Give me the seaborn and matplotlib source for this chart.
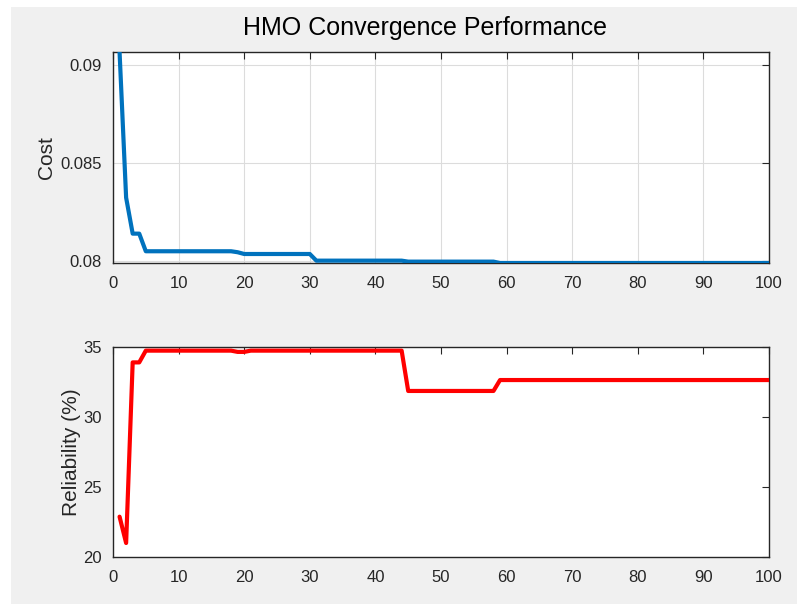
import matplotlib
matplotlib.use("Agg")
import matplotlib.pyplot as plt
import seaborn as sns
import pandas as pd
from matplotlib.patches import Rectangle

# Data (change points of the convergence curves)
cost_iter = [1, 2, 3, 4, 5, 18, 19, 20, 30, 31, 44, 45, 58, 59, 100]
cost_vals = [0.09066, 0.08322, 0.08138, 0.08138, 0.08048, 0.08048, 0.08043,
             0.08034, 0.08034, 0.08000, 0.08000, 0.07995, 0.07995, 0.07988, 0.07988]

rel_iter = [1, 2, 3, 4, 5, 18, 19, 20, 21, 44, 45, 58, 59, 100]
rel_vals = [22.88, 21.0, 33.9, 33.9, 34.74, 34.74, 34.65, 34.65, 34.74, 34.74,
            31.86, 31.86, 32.64, 32.64]

x_ticks = [0, 10, 20, 30, 40, 50, 60, 70, 80, 90, 100]
cost_ticks = [0.08, 0.085, 0.09]
cost_tick_labels = ["0.08", "0.085", "0.09"]
rel_ticks = [20, 25, 30, 35]

title = "HMO Convergence Performance"

sns.set_style("white")
plt.rcParams["font.family"] = ["Liberation Sans", "DejaVu Sans"]

W, H = 797, 604
fig = plt.figure(figsize=(W / 100, H / 100), dpi=100)
fig.patch.set_facecolor("white")
fig.patches.append(Rectangle((11 / W, 0), 1 - 11 / W, 1 - 7 / H,
                             transform=fig.transFigure, facecolor="#f0f0f0",
                             edgecolor="none", zorder=-10))

ax1 = fig.add_axes([113 / W, 1 - 263 / H, 656 / W, 211 / H])
ax2 = fig.add_axes([113 / W, 1 - 557 / H, 656 / W, 210 / H])

df_cost = pd.DataFrame({"Iteration": cost_iter, "Cost": cost_vals})
df_rel = pd.DataFrame({"Iteration": rel_iter, "Reliability": rel_vals})

sns.lineplot(data=df_cost, x="Iteration", y="Cost", ax=ax1, color="#0072BD",
             linewidth=3, sort=False, zorder=3)
sns.lineplot(data=df_rel, x="Iteration", y="Reliability", ax=ax2, color="#FF0000",
             linewidth=3, sort=False, zorder=3)

edge = "#262626"
for ax in (ax1, ax2):
    ax.set_facecolor("white")
    ax.set_xlim(0, 100)
    ax.set_xticks(x_ticks)
    ax.set_xlabel("")
    for sp in ax.spines.values():
        sp.set_color(edge)
        sp.set_linewidth(1.0)
        sp.set_visible(True)
    ax.tick_params(axis="both", which="both", direction="in", length=5,
                   width=0.8, colors=edge, labelsize=12, top=True, right=True,
                   labelcolor=edge)
    ax.tick_params(axis="x", pad=9)
    ax.tick_params(axis="y", pad=8)

ax1.set_ylim(min(cost_vals), max(cost_vals))
ax1.set_yticks(cost_ticks)
ax1.set_yticklabels(cost_tick_labels)
ax1.grid(True, color="#dcdcdc", linewidth=0.8)
ax1.set_axisbelow(True)
ax1.set_ylabel("Cost", fontsize=15, color=edge)
ax1.yaxis.set_label_coords((56 - 113) / 656, 0.5)

ax2.set_ylim(20, 35)
ax2.set_yticks(rel_ticks)
ax2.grid(False)
ax2.set_ylabel("Reliability (%)", fontsize=15, color=edge)
ax2.yaxis.set_label_coords((81 - 113) / 656, 0.5)

fig.text(425 / W, 1 - 35 / H, title, fontsize=18, color="black",
         ha="center", va="baseline")

fig.savefig("out.png", dpi=100, facecolor=fig.get_facecolor())
